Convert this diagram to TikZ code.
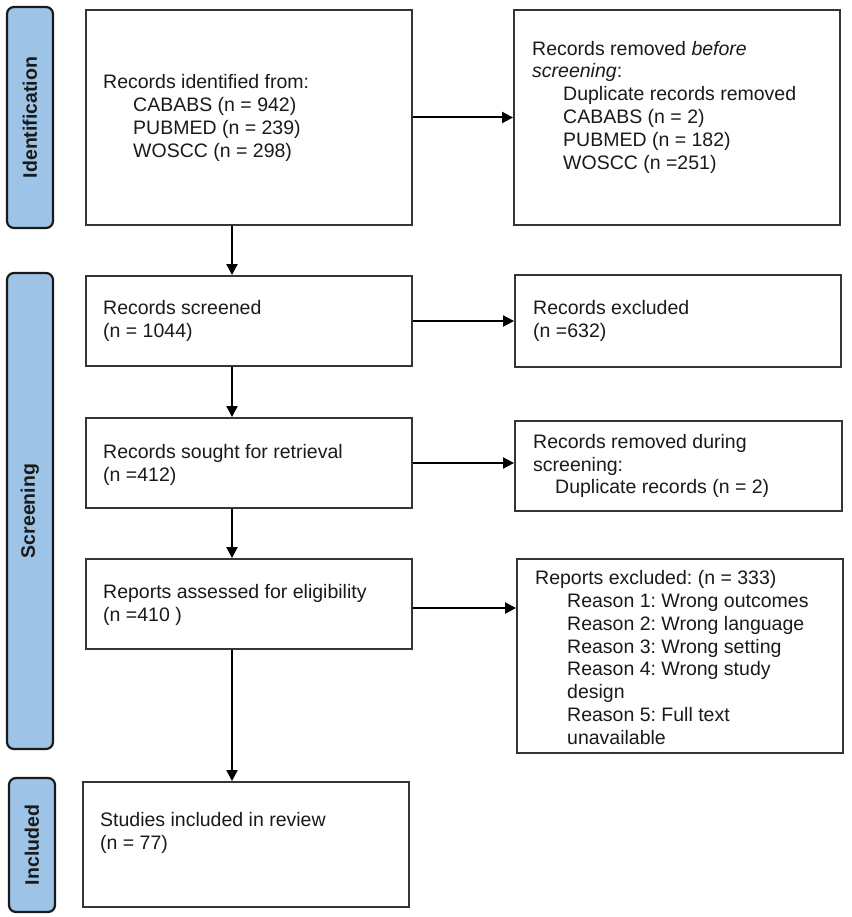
\documentclass[tikz,border=0pt]{standalone}
\usepackage{fontspec}
\setmainfont{Liberation Sans}
\usetikzlibrary{arrows.meta}
\definecolor{barblue}{HTML}{9DC3E6}
\definecolor{boxline}{HTML}{353535}
\definecolor{ink}{HTML}{1A1A1A}
\frenchspacing
\begin{document}
\begin{tikzpicture}[x=1pt,y=-1pt,
  box/.style={draw=boxline, line width=1.9pt, inner sep=0pt, fill=white},
  bar/.style={draw=ink, line width=2.2pt, fill=barblue, rounded corners=7pt, inner sep=0pt,
    rotate=90, font=\fontsize{19.5}{22}\selectfont\bfseries, text=ink},
  txt/.style={anchor=west, align=left, inner sep=0pt, font=\fontsize{19.5}{22.8}\selectfont, text=ink},
  arr/.style={draw=black, line width=2pt, -{Triangle[length=11pt,width=11pt]}}]
\useasboundingbox (0,0) rectangle (851,917);

% phase bars
\node[bar, minimum width=221pt, minimum height=46pt] (s1) at (30,117.5) {Identification};
\node[bar, minimum width=476pt, minimum height=46pt] (s2) at (30,511) {Screening};
\node[bar, minimum width=134pt, minimum height=46pt] (s3) at (32,845) {Included};

% boxes
\node[box, minimum width=326pt, minimum height=215pt] (b1) at (249,117.5) {};
\node[box, minimum width=326pt, minimum height=215pt] (b2) at (677,117.5) {};
\node[box, minimum width=326pt, minimum height=90pt] (b3) at (249,321) {};
\node[box, minimum width=326pt, minimum height=92pt] (b4) at (678,321) {};
\node[box, minimum width=326pt, minimum height=90pt] (b5) at (249,463) {};
\node[box, minimum width=327pt, minimum height=90pt] (b6) at (678.5,466) {};
\node[box, minimum width=326pt, minimum height=90pt] (b7) at (249,604) {};
\node[box, minimum width=326pt, minimum height=194pt] (b8) at (680,656) {};
\node[box, minimum width=326pt, minimum height=125pt] (b9) at (246,844.5) {};

% texts
\node[txt] (t1) at (103,118) {Records identified from:\\
  \hspace*{30pt}CABABS (n = 942)\\
  \hspace*{30pt}PUBMED (n = 239)\\
  \hspace*{30pt}WOSCC (n = 298)};
\node[txt] (t2) at (532,107) {Records removed \textit{before}\\
  \textit{screening}:\\
  \hspace*{31pt}Duplicate records removed\\
  \hspace*{31pt}CABABS (n = 2)\\
  \hspace*{31pt}PUBMED (n = 182)\\
  \hspace*{31pt}WOSCC (n =251)};
\node[txt] (t3) at (103,321) {Records screened\\(n = 1044)};
\node[txt] (t4) at (533,321) {Records excluded\\(n =632)};
\node[txt] (t5) at (103,465) {Records sought for retrieval\\(n =412)};
\node[txt] (t6) at (533,466) {Records removed during\\
  screening:\\
  \hspace*{22pt}Duplicate records (n = 2)};
\node[txt] (t7) at (103,605) {Reports assessed for eligibility\\(n =410 )};
\node[txt] (t8) at (535,657.5) {Reports excluded: (n = 333)\\
  \hspace*{32pt}Reason 1: Wrong outcomes\\
  \hspace*{32pt}Reason 2: Wrong language\\
  \hspace*{32pt}Reason 3: Wrong setting\\
  \hspace*{32pt}Reason 4: Wrong study\\
  \hspace*{32pt}design\\
  \hspace*{32pt}Reason 5: Full text\\
  \hspace*{32pt}unavailable};
\node[txt] (t9) at (100,833) {Studies included in review\\(n = 77)};

% connectors
\coordinate (ax) at (232,0);
\draw[arr] (b1.south -| ax) -- (b3.north -| ax);
\draw[arr] (b3.south -| ax) -- (b5.north -| ax);
\draw[arr] (b5.south -| ax) -- (b7.north -| ax);
\draw[arr] (b7.south -| ax) -- (b9.north -| ax);
\draw[arr] (b1.east) -- (b1.east -| b2.west);
\draw[arr] (b3.east) -- (b3.east -| b4.west);
\draw[arr] (b5.east) -- (b5.east -| b6.west);
\draw[arr] ([yshift=-4pt]b7.east) -- ([yshift=-4pt]b7.east -| b8.west);
\end{tikzpicture}
\end{document}
